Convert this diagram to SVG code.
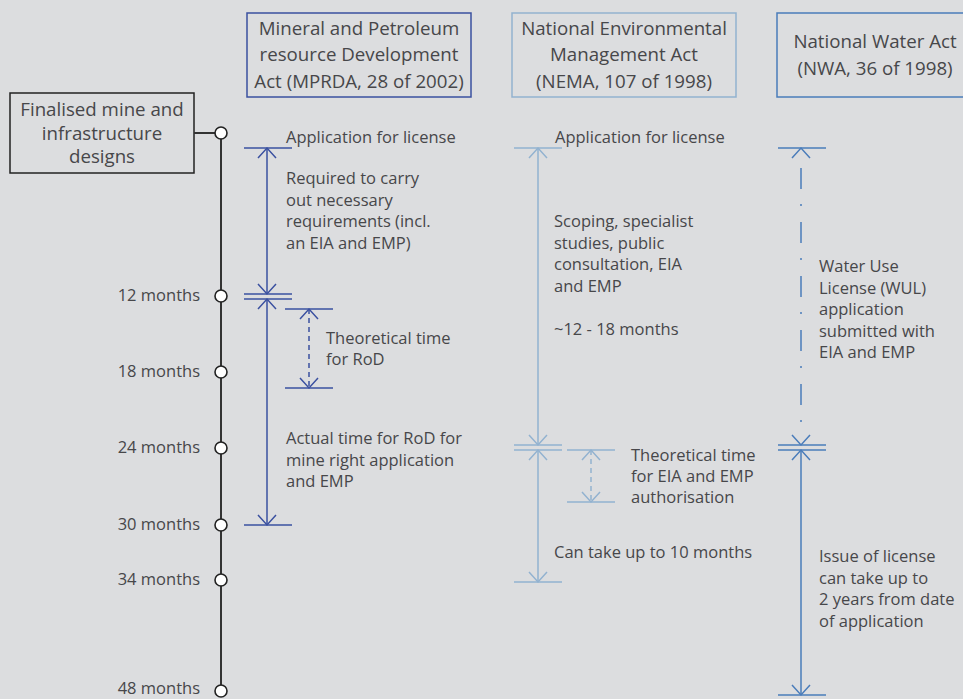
<svg xmlns="http://www.w3.org/2000/svg" xmlns:xlink="http://www.w3.org/1999/xlink" width="963" height="699" viewBox="0 0 963 699">
<style>
text{font-family:"Open Sans","Noto Sans","Liberation Sans",sans-serif;fill:#47474a}
.b{font-size:16.5px}
.h{font-size:18.7px;text-anchor:middle}
.m{font-size:16.5px;text-anchor:end}
.dk{stroke:#3a50a0;stroke-width:1.5;fill:none}
.lt{stroke:#92b2d0;stroke-width:1.5;fill:none}
.md{stroke:#4a7cba;stroke-width:1.5;fill:none}
.dash{stroke-dasharray:5 4}
.dd{stroke-dasharray:21 15 2 16}
.tl{stroke:#333;stroke-width:2;fill:none}
.node{fill:#fff;stroke:#222;stroke-width:1.6}
</style>
<defs>
<marker id="aD" markerUnits="userSpaceOnUse" markerWidth="24" markerHeight="24" refX="0" refY="0" orient="auto-start-reverse" overflow="visible"><path d="M-10,-9 L0,0 L-10,9" fill="none" stroke="#3a50a0" stroke-width="1.5"/></marker>
<marker id="aL" markerUnits="userSpaceOnUse" markerWidth="24" markerHeight="24" refX="0" refY="0" orient="auto-start-reverse" overflow="visible"><path d="M-10,-9 L0,0 L-10,9" fill="none" stroke="#92b2d0" stroke-width="1.5"/></marker>
<marker id="aM" markerUnits="userSpaceOnUse" markerWidth="24" markerHeight="24" refX="0" refY="0" orient="auto-start-reverse" overflow="visible"><path d="M-10,-9 L0,0 L-10,9" fill="none" stroke="#4a7cba" stroke-width="1.5"/></marker>
<path id="headUp" d="M-9,10 L0,0 L9,10" fill="none" stroke-width="1.5"/>
<path id="headDown" d="M-9,-10 L0,0 L9,-10" fill="none" stroke-width="1.5"/>
</defs>
<rect width="963" height="699" fill="#dcdddf"/>

<g id="finalised">
<rect x="10" y="93" width="184" height="80" fill="none" stroke="#222" stroke-width="1.5"/>
<text class="h" x="102" y="116">Finalised mine and</text>
<text class="h" x="102" y="140">infrastructure</text>
<text class="h" x="102" y="163">designs</text>
</g>

<g id="mprda">
<rect x="247" y="13" width="224" height="84" fill="none" stroke="#3a50a0" stroke-width="1.5"/>
<text class="h" x="359" y="35">Mineral and Petroleum</text>
<text class="h" x="359" y="61">resource Development</text>
<text class="h" x="359" y="88">Act (MPRDA, 28 of 2002)</text>
</g>

<g id="nema">
<rect x="512" y="13" width="224" height="84" fill="none" stroke="#92b2d0" stroke-width="1.5"/>
<text class="h" x="624" y="35">National Environmental</text>
<text class="h" x="624" y="61">Management Act</text>
<text class="h" x="624" y="88">(NEMA, 107 of 1998)</text>
</g>

<g id="nwa">
<rect x="777" y="13" width="200" height="84" fill="none" stroke="#4a7cba" stroke-width="1.5"/>
<text class="h" x="875" y="48">National Water Act</text>
<text class="h" x="875" y="75">(NWA, 36 of 1998)</text>
</g>

<g id="timeline">
<line class="tl" x1="221" y1="133" x2="221" y2="692"/>
<line class="tl" x1="194" y1="133" x2="215" y2="133"/>
<circle class="node" cx="221" cy="133" r="6"/>
<circle class="node" cx="221" cy="296" r="6"/>
<circle class="node" cx="221" cy="372" r="6"/>
<circle class="node" cx="221" cy="448" r="6"/>
<circle class="node" cx="221" cy="525" r="6"/>
<circle class="node" cx="221" cy="580" r="6"/>
<circle class="node" cx="221" cy="691" r="6"/>
<text class="m" x="200" y="301">12 months</text>
<text class="m" x="200" y="377">18 months</text>
<text class="m" x="200" y="453">24 months</text>
<text class="m" x="200" y="530">30 months</text>
<text class="m" x="200" y="585">34 months</text>
<text class="m" x="200" y="694">48 months</text>
</g>

<g id="connectors">
<line class="dk" x1="244" y1="148" x2="292" y2="148"/>
<line class="dk" x1="267" y1="148" x2="267" y2="294" marker-start="url(#aD)" marker-end="url(#aD)"/>
<line class="dk" x1="244" y1="294" x2="292" y2="294"/>
<line class="dk" x1="244" y1="299" x2="292" y2="299"/>
<line class="dk" x1="267" y1="299" x2="267" y2="525" marker-start="url(#aD)" marker-end="url(#aD)"/>
<line class="dk" x1="244" y1="525" x2="292" y2="525"/>
<line class="dk" x1="285" y1="309" x2="333" y2="309"/>
<line class="dk" x1="285" y1="388" x2="333" y2="388"/>
<line class="dk dash" x1="309" y1="309" x2="309" y2="388" marker-start="url(#aD)" marker-end="url(#aD)"/>
<line class="lt" x1="514" y1="148" x2="562" y2="148"/>
<line class="lt" x1="538" y1="148" x2="538" y2="445" marker-start="url(#aL)" marker-end="url(#aL)"/>
<line class="lt" x1="514" y1="445" x2="562" y2="445"/>
<line class="lt" x1="514" y1="450" x2="562" y2="450"/>
<line class="lt" x1="538" y1="450" x2="538" y2="582" marker-start="url(#aL)" marker-end="url(#aL)"/>
<line class="lt" x1="514" y1="582" x2="562" y2="582"/>
<line class="lt" x1="567" y1="450" x2="615" y2="450"/>
<line class="lt" x1="567" y1="502" x2="615" y2="502"/>
<line class="lt dash" x1="591" y1="450" x2="591" y2="502" marker-start="url(#aL)" marker-end="url(#aL)"/>
<line class="md" x1="778" y1="148" x2="826" y2="148"/>
<use xlink:href="#headUp" x="801" y="148" stroke="#4a7cba"/>
<line class="md dd" x1="801" y1="168" x2="801" y2="424"/>
<use xlink:href="#headDown" x="801" y="445" stroke="#4a7cba"/>
<line class="md" x1="778" y1="445" x2="826" y2="445"/>
<line class="md" x1="778" y1="450" x2="826" y2="450"/>
<line class="md" x1="801" y1="450" x2="801" y2="695" marker-start="url(#aM)" marker-end="url(#aM)"/>
<line class="md" x1="778" y1="695" x2="826" y2="695"/>
</g>

<g id="labels">
<text class="b" x="286" y="143">Application for license</text>
<text class="b" x="286" y="184">Required to carry</text>
<text class="b" x="286" y="205.5">out necessary</text>
<text class="b" x="286" y="227">requirements (incl.</text>
<text class="b" x="286" y="248.5">an EIA and EMP)</text>
<text class="b" x="326" y="344">Theoretical time</text>
<text class="b" x="326" y="365">for RoD</text>
<text class="b" x="286" y="444">Actual time for RoD for</text>
<text class="b" x="286" y="465.5">mine right application</text>
<text class="b" x="286" y="487">and EMP</text>
<text class="b" x="555" y="143">Application for license</text>
<text class="b" x="554" y="227">Scoping, specialist</text>
<text class="b" x="554" y="248.5">studies, public</text>
<text class="b" x="554" y="270">consultation, EIA</text>
<text class="b" x="554" y="291.5">and EMP</text>
<text class="b" x="554" y="335">~12 - 18 months</text>
<text class="b" x="631" y="461">Theoretical time</text>
<text class="b" x="631" y="482">for EIA and EMP</text>
<text class="b" x="631" y="503">authorisation</text>
<text class="b" x="554" y="558">Can take up to 10 months</text>
<text class="b" x="819" y="272">Water Use</text>
<text class="b" x="819" y="293.5">License (WUL)</text>
<text class="b" x="819" y="315">application</text>
<text class="b" x="819" y="336.5">submitted with</text>
<text class="b" x="819" y="358">EIA and EMP</text>
<text class="b" x="819" y="562">Issue of license</text>
<text class="b" x="819" y="583.5">can take up to</text>
<text class="b" x="819" y="605">2 years from date</text>
<text class="b" x="819" y="626.5">of application</text>
</g>
</svg>
